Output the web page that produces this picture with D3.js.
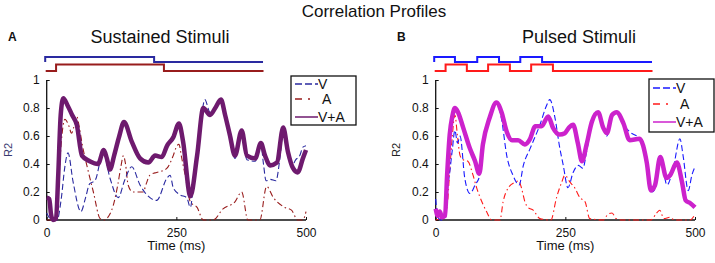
<!DOCTYPE html>
<html>
<head>
<meta charset="utf-8">
<script src="https://cdn.jsdelivr.net/npm/d3@7"></script>
<style>
  body { margin: 0; background: #fff; }
  svg { display: block; font-family: Arial, "Liberation Sans", sans-serif; }
  .line { fill: none; }
</style>
</head>
<body>
<svg id="chart" width="715" height="263"></svg>
<script>
// ---- data (time in ms, R2) ----
const xTicks = [0, 250, 500];
const yTicks = [0, 0.2, 0.4, 0.6, 0.8, 1];
const legendLabels = ["V", "A", "V+A"];

// Sustained stimuli
const sustVA = [[0,0.16],[5,0.15],[8,0.05],[12,0.0],[18,0.01],[22,0.3],[27,0.75],[32,0.87],[40,0.82],[49,0.75],[58,0.68],[68,0.46],[83,0.42],[99,0.40],[110,0.50],[116,0.44],[122,0.36],[130,0.46],[140,0.6],[149,0.70],[164,0.56],[180,0.44],[196,0.41],[209,0.46],[222,0.45],[232,0.53],[244,0.59],[255,0.69],[263,0.56],[277,0.17],[290,0.46],[302,0.80],[315,0.75],[325,0.80],[336,0.86],[344,0.75],[353,0.61],[363,0.46],[376,0.64],[386,0.46],[402,0.44],[413,0.55],[421,0.46],[431,0.39],[444,0.41],[456,0.66],[465,0.49],[475,0.37],[484,0.34],[494,0.44],[500,0.50]];
const sustV = [[0,0.05],[10,0.0],[20,0.0],[28,0.15],[35,0.38],[41,0.48],[51,0.27],[66,0.06],[75,0.16],[83,0.26],[93,0.28],[109,0.48],[122,0.3],[138,0.16],[150,0.28],[164,0.38],[180,0.25],[193,0.18],[212,0.14],[232,0.3],[238,0.32],[244,0.23],[257,0.18],[270,0.16],[277,0.09],[283,0.25],[292,0.5],[300,0.78],[305,0.86],[315,0.77],[325,0.8],[336,0.86],[344,0.76],[353,0.62],[363,0.44],[376,0.63],[386,0.43],[402,0.42],[413,0.54],[418,0.4],[423,0.28],[431,0.29],[442,0.28],[450,0.45],[456,0.64],[465,0.48],[472,0.38],[480,0.43],[488,0.46],[494,0.52],[500,0.53]];
const sustA = [[0,0.0],[15,0.0],[22,0.2],[28,0.55],[35,0.72],[42,0.68],[48,0.62],[52,0.66],[58,0.74],[63,0.66],[68,0.55],[80,0.35],[90,0.2],[103,0.01],[110,0.0],[120,0.03],[128,0.1],[137,0.25],[143,0.38],[148,0.46],[152,0.4],[157,0.25],[166,0.2],[174,0.2],[186,0.2],[192,0.26],[199,0.32],[212,0.34],[222,0.35],[232,0.37],[244,0.46],[251,0.53],[255,0.54],[260,0.45],[267,0.32],[277,0.13],[290,0.09],[302,0.0],[321,0.0],[340,0.08],[363,0.13],[376,0.2],[388,0.0],[411,0.0],[424,0.24],[437,0.16],[459,0.09],[472,0.07],[484,0.0],[494,0.0],[500,0.06]];
// stimulus on/off traces
const sustStimV = [[0,0],[0,1],[210,0],[420,0]];
const sustStimA = [[0,0],[20,1],[228,0],[420,0]];

// Pulsed stimuli
const pulsVA = [[0,0.08],[4,0.03],[8,0.06],[12,0.02],[18,0.03],[22,0.32],[27,0.61],[32,0.74],[37,0.80],[43,0.77],[53,0.66],[66,0.51],[76,0.42],[84,0.33],[91,0.54],[104,0.73],[117,0.84],[127,0.77],[137,0.63],[147,0.57],[159,0.57],[172,0.54],[182,0.58],[192,0.67],[204,0.67],[217,0.74],[226,0.66],[239,0.61],[249,0.62],[257,0.66],[265,0.68],[274,0.55],[282,0.42],[291,0.54],[301,0.70],[313,0.77],[323,0.66],[330,0.62],[340,0.75],[349,0.77],[362,0.69],[374,0.57],[393,0.58],[407,0.41],[415,0.21],[423,0.25],[433,0.45],[445,0.3],[452,0.32],[465,0.41],[475,0.27],[482,0.14],[491,0.12],[500,0.09]];
const pulsV = [[0,0.15],[4,0.02],[10,0.0],[18,0.02],[22,0.2],[27,0.34],[32,0.5],[37,0.64],[42,0.55],[47,0.6],[56,0.30],[66,0.19],[76,0.25],[85,0.32],[91,0.54],[104,0.73],[117,0.84],[127,0.72],[137,0.46],[149,0.32],[161,0.25],[169,0.39],[182,0.51],[201,0.68],[214,0.82],[220,0.86],[230,0.73],[239,0.52],[246,0.39],[255,0.23],[265,0.34],[275,0.39],[284,0.37],[291,0.49],[301,0.68],[313,0.77],[323,0.66],[330,0.6],[340,0.75],[349,0.77],[362,0.68],[374,0.63],[393,0.58],[407,0.41],[417,0.2],[423,0.22],[433,0.46],[446,0.25],[458,0.37],[471,0.58],[477,0.46],[487,0.21],[494,0.32],[500,0.38]];
const pulsA = [[0,0.0],[15,0.02],[22,0.1],[27,0.35],[32,0.6],[37,0.75],[42,0.6],[47,0.46],[53,0.43],[62,0.42],[72,0.32],[79,0.23],[89,0.13],[98,0.06],[108,0.0],[124,0.0],[130,0.13],[140,0.23],[153,0.27],[160,0.28],[166,0.22],[172,0.13],[178,0.09],[188,0.07],[201,0.01],[222,0.0],[233,0.16],[243,0.27],[249,0.32],[259,0.27],[268,0.23],[278,0.16],[288,0.13],[297,0.01],[323,0.0],[332,0.04],[340,0.05],[348,0.01],[360,0.0],[415,0.0],[426,0.05],[432,0.07],[440,0.01],[452,0.02],[460,0.0],[490,0.0],[500,0.04]];
const pulsStimV = [[0,0],[0,1],[40,0],[83,1],[125,0],[166,1],[208,0],[420,0]];
const pulsStimA = [[0,0],[21,1],[62,0],[103,1],[145,0],[186,1],[228,0],[420,0]];

const svg = d3.select("#chart");

svg.append("text")
  .attr("x", 374).attr("y", 17)
  .attr("text-anchor", "middle")
  .attr("font-size", 17).attr("fill", "#111")
  .text("Correlation Profiles");

function panel(opt) {
  const x = d3.scaleLinear().domain([0, 500]).range([opt.left, opt.left + 259.3]);
  const y = d3.scaleLinear().domain([0, 1]).range([220, 80]);
  const g = svg.append("g");

  // letter + title
  g.append("text").attr("x", opt.letterX).attr("y", 41)
    .attr("font-size", 12).attr("font-weight", "bold").attr("fill", "#111")
    .text(opt.letter);
  g.append("text").attr("x", opt.titleX).attr("y", 42.5)
    .attr("text-anchor", "middle").attr("font-size", 18).attr("fill", "#111")
    .text(opt.title);

  // stimulus traces above the plot
  const ySV = d3.scaleLinear().domain([0, 1]).range([62, 57]);
  const ySA = d3.scaleLinear().domain([0, 1]).range([71, 64.5]);
  g.append("path").datum(opt.stimV).attr("class", "line")
    .attr("stroke", opt.cV).attr("stroke-width", 2)
    .attr("d", d3.line().curve(d3.curveStepAfter).x(d => x(d[0]) - 1.5).y(d => ySV(d[1])));
  g.append("path").datum(opt.stimA).attr("class", "line")
    .attr("stroke", opt.cA).attr("stroke-width", 2)
    .attr("d", d3.line().curve(d3.curveStepAfter).x(d => x(d[0]) - 1).y(d => ySA(d[1])));

  // axes (ticks pointing inward)
  const yAxis = g.append("g").attr("transform", `translate(${opt.left},0)`)
    .call(d3.axisLeft(y).tickValues(yTicks).tickSize(-3).tickPadding(7)
      .tickFormat(d => d === 1 ? "1" : d3.format("")(d)));
  const xAxis = g.append("g").attr("transform", "translate(0,220)")
    .call(d3.axisBottom(x).tickValues(xTicks).tickSize(-3).tickPadding(8));
  [xAxis, yAxis].forEach(a => {
    a.select(".domain").attr("stroke", "#111").attr("stroke-width", 1.3);
    a.selectAll(".tick line").attr("stroke", "#111");
    a.selectAll(".tick text").attr("font-size", 12).attr("fill", "#111")
      .attr("font-family", "Arial, 'Liberation Sans', sans-serif");
  });
  // remove the end caps of the domain path
  yAxis.select(".domain").attr("d", `M0,${y(1)}V${y(0)}`);
  xAxis.select(".domain").attr("d", `M${x(0)},0H${x(500)}`);

  g.append("text")
    .attr("transform", `translate(${opt.r2X},150) rotate(-90)`)
    .attr("text-anchor", "middle").attr("font-size", 11).attr("fill", opt.r2Color)
    .text("R2");
  g.append("text").attr("x", x(250)).attr("y", 250)
    .attr("text-anchor", "middle").attr("font-size", 13).attr("fill", "#111")
    .text("Time (ms)");

  const line = d3.line().curve(d3.curveMonotoneX).x(d => x(d[0])).y(d => y(d[1]));
  g.append("path").datum(opt.A).attr("class", "line")
    .attr("stroke", opt.cA).attr("stroke-width", 1.1).attr("stroke-dasharray", "6,3,1.5,3")
    .attr("d", line);
  g.append("path").datum(opt.V).attr("class", "line")
    .attr("stroke", opt.cV).attr("stroke-width", 1.1).attr("stroke-dasharray", "6,3")
    .attr("d", line);
  g.append("path").datum(opt.VA).attr("class", "line")
    .attr("stroke", opt.cVA).attr("stroke-width", 4.5).attr("stroke-linejoin", "round")
    .attr("d", line);

  // legend
  const lg = g.append("g").attr("transform", `translate(${opt.legX},${opt.legY})`);
  lg.append("rect").attr("width", 65).attr("height", opt.legH)
    .attr("fill", "#fff").attr("stroke", "#111").attr("stroke-width", 1.3);
  const styles = [
    { c: opt.cV, dash: "7,3" },
    { c: opt.cA, dash: "7,6,2,20" },
    { c: opt.cVA, dash: null }
  ];
  legendLabels.forEach((lab, i) => {
    const yy = opt.legRows[i];
    lg.append("line").attr("x1", 4).attr("x2", 27).attr("y1", yy).attr("y2", yy)
      .attr("stroke", styles[i].c).attr("stroke-width", 1.5)
      .attr("stroke-dasharray", styles[i].dash);
    lg.append("text").attr("x", i === 1 ? 31 : 27).attr("y", yy + 5)
      .attr("font-size", 14).attr("fill", "#111").text(lab);
  });
}

panel({
  left: 46.7, letter: "A", letterX: 8, title: "Sustained Stimuli", titleX: 160,
  VA: sustVA, V: sustV, A: sustA, stimV: sustStimV, stimA: sustStimA,
  cV: "#2a2aa0", cA: "#981c1c", cVA: "#6e1a6e", r2X: 12, r2Color: "#3a3a70",
  legX: 291, legY: 76, legH: 49, legRows: [8, 23, 41]
});

panel({
  left: 435.7, letter: "B", letterX: 397, title: "Pulsed Stimuli", titleX: 579,
  VA: pulsVA, V: pulsV, A: pulsA, stimV: pulsStimV, stimA: pulsStimA,
  cV: "#1a1aff", cA: "#ff1a1a", cVA: "#cc22cc", r2X: 400, r2Color: "#222",
  legX: 649, legY: 79, legH: 53, legRows: [9, 25, 43]
});
</script>
</body>
</html>
